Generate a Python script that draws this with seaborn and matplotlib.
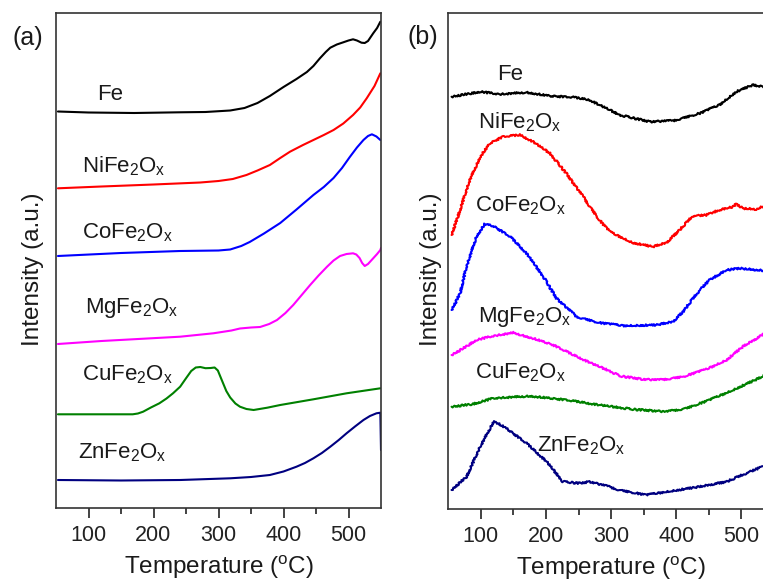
import matplotlib
matplotlib.use("Agg")
import matplotlib.pyplot as plt
import seaborn as sns
import pandas as pd

# ---------------- (a) TPR-like profiles ----------------
a_fe_T = [53, 100, 170, 240, 280, 318, 340, 360, 379, 400, 420, 436, 446, 456, 465, 472, 482, 492, 500, 507, 513, 520, 525, 530, 538, 544, 549]
a_fe_I = [396.5, 395.5, 395, 395.7, 396, 397.5, 400, 405, 412, 421, 429, 436, 442, 449.7, 456, 460.3, 463.5, 465.7, 467.5, 468.7, 467.5, 465.3, 465, 467, 474.7, 480, 486.3]

a_ni_T = [53, 120, 200, 272, 300, 322, 343, 360, 379, 395, 410, 430, 446, 462, 477, 492, 507, 518, 528, 540, 549]
a_ni_I = [319.7, 321.5, 323.5, 325.5, 327, 329, 333, 337.5, 343, 350, 356.3, 363, 368, 373, 378, 384.5, 393, 400.5, 409.7, 422, 434.7]

a_co_T = [53, 150, 241, 300, 318, 335, 348, 370, 395, 420, 446, 462, 477, 490, 502, 513, 523, 530, 536, 543, 549]
a_co_I = [252, 255, 257, 257.5, 258.5, 262, 266, 274.5, 285, 298.5, 313, 321, 330, 340, 351, 360.5, 368, 372, 373.7, 371.5, 368]

a_mg_T = [53, 120, 168, 241, 292, 320, 333, 350, 364, 378, 390, 403, 415, 428, 441, 454, 467, 477, 487, 497, 507, 512, 517, 521, 525, 530, 538, 544, 549, 550]
a_mg_I = [164, 167, 168.7, 171.3, 174.7, 177.5, 179.5, 180.5, 181, 184, 188, 195, 203, 213, 223, 232.5, 241.3, 247.5, 252, 254, 254.7, 253.5, 250, 245, 242, 244, 249.7, 254, 258, 260]

a_cu_T = [53, 168, 176, 184, 196, 209, 220, 230, 241, 250, 258, 265, 272, 280, 288, 294, 299, 305, 312, 318, 326, 333, 343, 354, 375, 395, 446, 497, 549]
a_cu_I = [93.7, 93.7, 94.5, 96.3, 100.5, 104.7, 109.5, 114.7, 121.3, 129.7, 137, 140.5, 141, 139.8, 140, 140.5, 137.5, 128, 117, 110.5, 104.5, 101.3, 99, 98, 100.3, 103, 108.7, 114.7, 119.7]

a_zn_T = [53, 150, 241, 318, 350, 379, 400, 420, 433, 446, 459, 472, 485, 497, 510, 523, 533, 543, 549, 550]
a_zn_I = [28, 27.5, 28, 29.7, 31, 33, 36.5, 41.3, 45, 49.7, 55, 61.3, 68, 74.7, 81.5, 88, 92, 94.7, 95.3, 58]

# ---------------- (b) noisy profiles ----------------
b_fe_T = [55, 99, 129, 170, 206, 242, 267, 282, 298, 313, 359, 395, 436, 466, 492, 517, 532, 540]
b_fe_I = [412.3, 417.3, 414.7, 416.7, 413, 411.7, 409, 404, 399, 394, 387.3, 388.3, 395.7, 404, 417.3, 424, 422.3, 421]

b_ni_T = [55, 68, 83, 99, 114, 134, 160, 180, 206, 231, 257, 282, 298, 308, 333, 364, 385, 405, 425, 446, 466, 487, 492, 502, 523, 532, 540]
b_ni_I = [274, 299, 329, 352.3, 365.7, 372.3, 374, 367.3, 355.7, 335.7, 312.3, 289, 277.3, 274, 266.3, 262.3, 266.3, 279, 293, 294, 299, 302.3, 305, 300.7, 299.7, 302.3, 303]

b_co_T = [55, 63, 68, 78, 93, 106, 119, 145, 170, 196, 216, 247, 282, 318, 369, 395, 410, 425, 436, 451, 477, 497, 532, 540]
b_co_I = [199, 209, 215.7, 242.3, 272.3, 285, 283, 272.3, 255.7, 232.3, 210.7, 192.3, 186.3, 183.3, 184, 187.3, 197, 210, 219, 229, 239, 240.7, 238.5, 238]

b_mg_T = [55, 73, 93, 119, 150, 180, 211, 242, 272, 298, 313, 349, 374, 410, 446, 477, 502, 532, 540]
b_mg_I = [154, 160.7, 169, 173, 176.3, 170.7, 164, 154, 145, 138, 133, 129.7, 129, 132.3, 139.7, 149, 162.3, 174, 178]

b_cu_T = [55, 88, 119, 175, 231, 282, 333, 385, 415, 451, 487, 532, 540]
b_cu_I = [102.3, 105, 110.7, 113, 109, 104, 99.7, 97.3, 100.7, 109, 119, 132.3, 136]

b_zn_T = [55, 78, 99, 120, 139, 170, 201, 226, 252, 267, 293, 313, 354, 385, 436, 477, 507, 532, 540]
b_zn_I = [19, 32.3, 62.3, 88, 80.7, 65.7, 47.3, 27.3, 25.7, 27.3, 23, 19, 14, 17.3, 22.3, 27.3, 35.7, 42.3, 45]

names = ["Fe", "NiFe$_2$O$_x$", "CoFe$_2$O$_x$", "MgFe$_2$O$_x$", "CuFe$_2$O$_x$", "ZnFe$_2$O$_x$"]
colors = ["black", "#ff0000", "#0000ff", "#ff00ff", "#008000", "#000080"]

sns.set_style("ticks")
plt.rcParams["font.family"] = ["Liberation Sans", "DejaVu Sans"]
plt.rcParams["mathtext.fontset"] = "custom"
plt.rcParams["mathtext.rm"] = "Liberation Sans"
plt.rcParams["mathtext.it"] = "Liberation Sans"
plt.rcParams["mathtext.default"] = "regular"

W, H = 763, 582
fig = plt.figure(figsize=(W / 100, H / 100), dpi=100)
ax_a = fig.add_axes([56 / W, 1 - 508 / H, 325 / W, 495 / H])
ax_b = fig.add_axes([448.3 / W, 1 - 509 / H, 325.7 / W, 496.3 / H])

series_a = [(a_fe_T, a_fe_I), (a_ni_T, a_ni_I), (a_co_T, a_co_I),
            (a_mg_T, a_mg_I), (a_cu_T, a_cu_I), (a_zn_T, a_zn_I)]
series_b = [(b_fe_T, b_fe_I), (b_ni_T, b_ni_I), (b_co_T, b_co_I),
            (b_mg_T, b_mg_I), (b_cu_T, b_cu_I), (b_zn_T, b_zn_I)]

for (T, I), name, c in zip(series_a, names, colors):
    df = pd.DataFrame({"T": T, "I": I})
    sns.lineplot(data=df, x="T", y="I", ax=ax_a, color=c, lw=1.5,
                 estimator=None, sort=False)
    ax_a.lines[-1].set_solid_joinstyle("round")

for (T, I), name, c in zip(series_b, names, colors):
    df = pd.DataFrame({"T": T, "I": I})
    sns.lineplot(data=df, x="T", y="I", ax=ax_b, color=c, lw=1.5,
                 estimator=None, sort=False)
    ax_b.lines[-1].set_sketch_params(scale=0.9, length=1.5, randomness=3)

# curve labels (left x, baseline y) in data units
lab_a = [(113, 408), (90, 336), (90, 270), (94.6, 195), (90, 128), (84, 50)]
lab_b = [(124.6, 429), (95.5, 380.7), (90.9, 297.3), (95.5, 187.3), (90.9, 130.7), (185.9, 57.3)]
for ax, labs in ((ax_a, lab_a), (ax_b, lab_b)):
    for (x, y), name in zip(labs, names):
        ax.text(x, y, name, fontsize=16, ha="left", va="baseline", color="#1a1a1a")

for ax, ytop in ((ax_a, 495), (ax_b, 496.3)):
    ax.set_xlim(50, 550)
    ax.set_ylim(0, ytop)
    ax.set_xticks([100, 200, 300, 400, 500])
    ax.set_xticks([150, 250, 350, 450], minor=True)
    ax.set_yticks([])
    ax.tick_params(axis="x", which="major", direction="out", length=7, width=1.2,
                   labelsize=15.5, pad=5, colors="#222222")
    ax.tick_params(axis="x", which="minor", direction="out", length=4, width=1.2, colors="#222222")
    ax.set_xlabel("Temperature ($^\\mathrm{o}$C)", fontsize=17.5, labelpad=6, color="#1a1a1a")
    ax.set_ylabel("Intensity (a.u.)", fontsize=17.5, color="#1a1a1a", va="center")
    for s in ax.spines.values():
        s.set_visible(True)
        s.set_linewidth(1.2)
        s.set_color("#333333")

ax_a.yaxis.set_label_coords(-0.071, 0.483)
ax_b.yaxis.set_label_coords(-0.053, 0.483)

fig.text(27.5 / W, 1 - 37.5 / H, "(a)", fontsize=18, ha="center", va="center", color="#1a1a1a")
fig.text(423 / W, 1 - 37 / H, "(b)", fontsize=18, ha="center", va="center", color="#1a1a1a")

fig.savefig("out.png", dpi=100)
